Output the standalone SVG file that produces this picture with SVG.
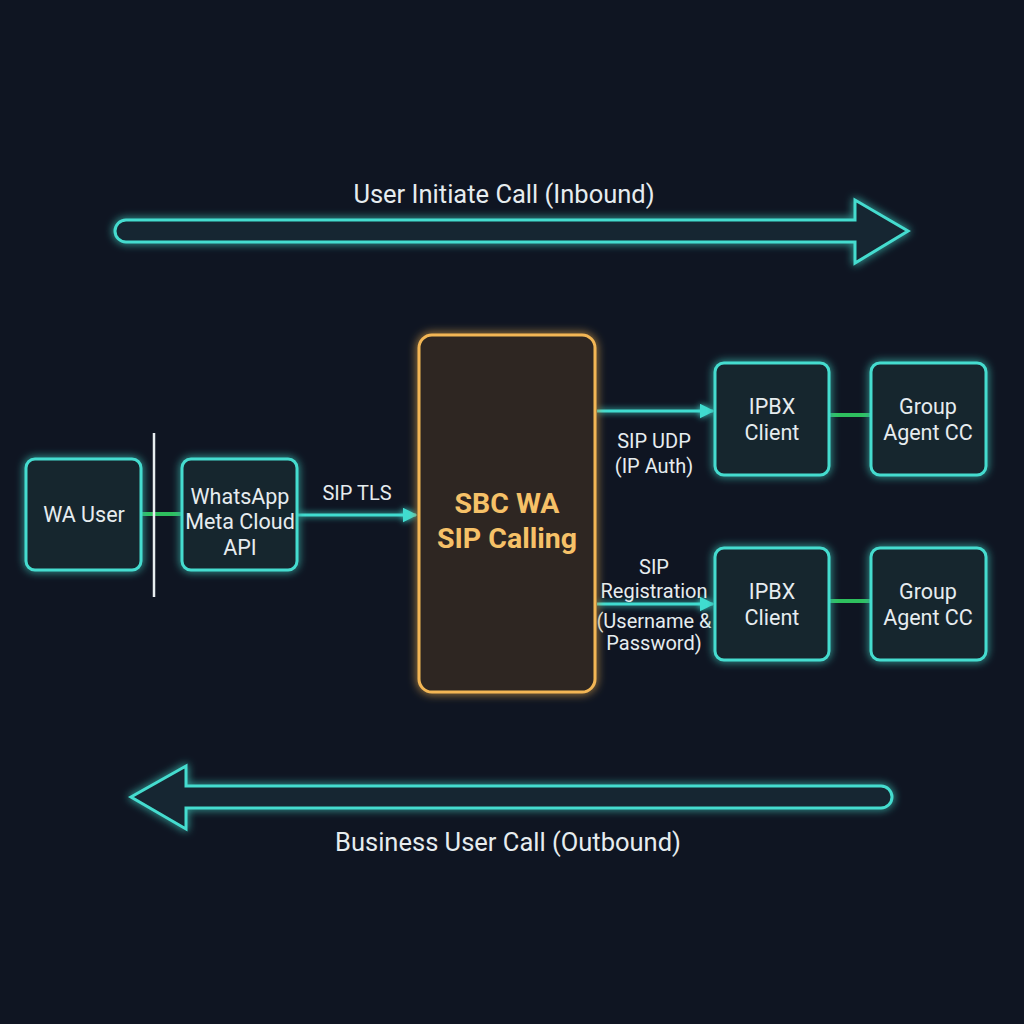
<svg xmlns="http://www.w3.org/2000/svg" width="1024" height="1024" viewBox="0 0 1024 1024">
<defs>
<filter id="glow" x="-30%" y="-30%" width="160%" height="160%">
<feGaussianBlur in="SourceGraphic" stdDeviation="4" result="b"/>
<feMerge><feMergeNode in="b"/><feMergeNode in="SourceGraphic"/></feMerge>
</filter>
<filter id="glowl" filterUnits="userSpaceOnUse" x="0" y="0" width="1024" height="1024">
<feGaussianBlur in="SourceGraphic" stdDeviation="3" result="b"/>
<feMerge><feMergeNode in="b"/><feMergeNode in="SourceGraphic"/></feMerge>
</filter>
<filter id="glowo" x="-30%" y="-30%" width="160%" height="160%">
<feGaussianBlur in="SourceGraphic" stdDeviation="5" result="b"/>
<feMerge><feMergeNode in="b"/><feMergeNode in="SourceGraphic"/></feMerge>
</filter>
<marker id="ah" viewBox="0 0 10 10" refX="9" refY="5" markerWidth="5" markerHeight="5" orient="auto" markerUnits="strokeWidth">
<path d="M0,0 L10,5 L0,10 z" fill="#3fdcd0"/>
</marker>
<style>
.box{fill:#16262e;stroke:#45dccf;stroke-width:3;filter:url(#glow)}
.sbc{fill:#2d2820;stroke:#f3b655;stroke-width:3;filter:url(#glowo)}
.t{font-family:Roboto,"Liberation Sans",sans-serif;fill:#e6ecef;text-anchor:middle}
.n{font-size:21.5px}
.l{font-size:20px}
.big{font-size:25.5px}
.sbct{font-family:Roboto,"Liberation Sans",sans-serif;font-weight:bold;font-size:28.5px;fill:#f6c168;text-anchor:middle}
.link{stroke:#2ebf5e;stroke-width:4}
.arr{stroke:#40dcd0;stroke-width:3;fill:none;marker-end:url(#ah);filter:url(#glowl)}
.fat{fill:#142830;stroke:#45dccf;stroke-width:3;stroke-linejoin:miter;filter:url(#glow)}
</style>
</defs>
<rect width="1024" height="1024" fill="#0f1522"/>

<g id="inbound">
<path class="fat" d="M126,220 H855 V200 L908,231 L855,263 V242 H126 A11,11 0 0 1 126,220 Z"/>
<text class="t big" x="504" y="203">User Initiate Call (Inbound)</text>
</g>
<g id="outbound">
<path class="fat" d="M881,786 H186 V766 L131,797 L186,829 V808 H881 A11,11 0 0 0 881,786 Z"/>
<text class="t big" x="508" y="851">Business User Call (Outbound)</text>
</g>

<g id="connectors">
<line class="link" x1="142" y1="514" x2="182" y2="514"/>
<line x1="154" y1="433" x2="154" y2="597" stroke="#e8eef0" stroke-width="2.5"/>
<line class="arr" x1="298" y1="515" x2="416" y2="515"/>
<line class="arr" x1="597" y1="411" x2="713" y2="411"/>
<line class="arr" x1="597" y1="604" x2="713" y2="604"/>
<line class="link" x1="830" y1="415" x2="871" y2="415"/>
<line class="link" x1="830" y1="601" x2="871" y2="601"/>
<text class="t l" x="357" y="500">SIP TLS</text>
<text class="t l" x="654" y="448">SIP UDP</text>
<text class="t l" x="654" y="473">(IP Auth)</text>
<text class="t l" x="654" y="574">SIP</text>
<text class="t l" x="654" y="598">Registration</text>
<text class="t l" x="654" y="628">(Username &amp;</text>
<text class="t l" x="654" y="650">Password)</text>
</g>

<g id="wa-user">
<rect class="box" x="26" y="459" width="115" height="111" rx="9"/>
<text class="t n" x="84" y="522">WA User</text>
</g>
<g id="whatsapp">
<rect class="box" x="182" y="459" width="115" height="111" rx="9"/>
<text class="t n" x="240" y="504">WhatsApp</text>
<text class="t n" x="240" y="529">Meta Cloud</text>
<text class="t n" x="240" y="555">API</text>
</g>
<g id="sbc">
<rect class="sbc" x="419" y="335" width="176" height="357" rx="13"/>
<text class="sbct" x="507" y="513">SBC WA</text>
<text class="sbct" x="507" y="548">SIP Calling</text>
</g>
<g id="ipbx1">
<rect class="box" x="715" y="363" width="114" height="112" rx="9"/>
<text class="t n" x="772" y="414">IPBX</text>
<text class="t n" x="772" y="440">Client</text>
</g>
<g id="group1">
<rect class="box" x="871" y="363" width="115" height="112" rx="9"/>
<text class="t n" x="928" y="414">Group</text>
<text class="t n" x="928" y="440">Agent CC</text>
</g>
<g id="ipbx2">
<rect class="box" x="715" y="548" width="114" height="112" rx="9"/>
<text class="t n" x="772" y="599">IPBX</text>
<text class="t n" x="772" y="625">Client</text>
</g>
<g id="group2">
<rect class="box" x="871" y="548" width="115" height="112" rx="9"/>
<text class="t n" x="928" y="599">Group</text>
<text class="t n" x="928" y="625">Agent CC</text>
</g>
</svg>
